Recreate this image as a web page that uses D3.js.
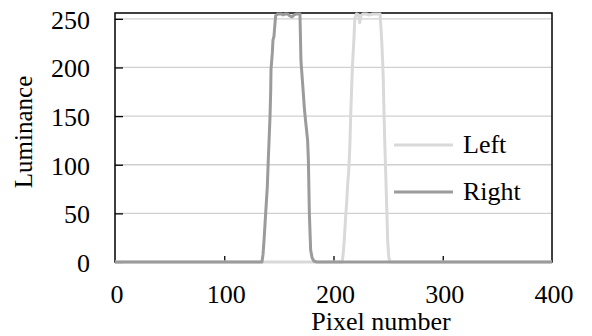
<!DOCTYPE html>
<html>
<head>
<meta charset="utf-8">
<script src="https://cdn.jsdelivr.net/npm/d3@7"></script>
<style>
  body { margin: 0; background: #fff; }
  svg { display: block; }
  svg text { font-family: "Times New Roman", "Liberation Serif", "DejaVu Serif", serif; }
</style>
</head>
<body>
<script>
// luminance profiles (pixel number, value)
const leftPixels = [0, 208, 209, 210, 211, 212, 213, 214, 215, 215.7, 216.5, 217.2, 218, 218.8, 219.5, 221, 223, 224, 225, 227, 230, 233, 236, 239, 242.6, 243.5, 244.2, 245, 245.5, 246.3, 247, 247.8, 248.7, 249.6, 250.5, 251.5, 400];
const leftValues = [0, 0, 10, 25, 45, 60, 80, 95, 120, 150, 175, 198, 215, 232, 250, 255, 254, 246, 253, 255, 255, 254, 255, 255, 255, 240, 226, 205, 190, 150, 120, 91, 57, 22, 6, 0, 0];

const rightPixels = [0, 134.5, 135.5, 136.4, 137.9, 139.4, 140.3, 141.2, 141.9, 142.5, 142.8, 143.3, 144, 144.6, 145.5, 147, 149, 152, 154, 156, 158, 160, 162, 164, 166, 169.3, 170.2, 171.3, 172.4, 173.2, 174, 175.2, 176.3, 177, 177.9, 179.1, 180.5, 182, 184.5, 400];
const rightValues = [0, 0, 8, 22, 50, 77, 105, 130, 150, 175, 198, 205, 215, 228, 232, 253, 255, 255, 254, 255, 255, 253, 252, 254, 255, 255, 207, 190, 173, 160, 150, 137, 125, 105, 50, 12, 4, 1, 0, 0];

const seriesNames = ["Left", "Right"];
const seriesColors = ["#d9d9d9", "#9b9b9b"];

const xTicks = [0, 100, 200, 300, 400];
const yTicks = [0, 50, 100, 150, 200, 250];

const width = 592;
const height = 336;
const font = "'Times New Roman', 'Liberation Serif', 'DejaVu Serif', serif";

const svg = d3
  .select("body")
  .append("svg")
  .attr("width", width)
  .attr("height", height)
  .attr("font-family", font);

const x = d3.scaleLinear().domain([0, 400]).range([115, 552]);
const y = d3.scaleLinear().domain([0, 256]).range([262, 13]);

// horizontal grid
svg
  .append("g")
  .selectAll("line")
  .data(yTicks.filter((d) => d > 0))
  .join("line")
  .attr("x1", x(0))
  .attr("x2", x(400))
  .attr("y1", (d) => y(d))
  .attr("y2", (d) => y(d))
  .attr("stroke", "#d0d0d0")
  .attr("stroke-width", 1.3);

// frame
svg
  .append("rect")
  .attr("x", x(0))
  .attr("y", y(256))
  .attr("width", x(400) - x(0))
  .attr("height", y(0) - y(256))
  .attr("fill", "none")
  .attr("stroke", "#000")
  .attr("stroke-width", 1.5);

// inside ticks
const yAxis = d3.axisRight(y).tickValues(yTicks).tickSize(8).tickFormat("");
svg
  .append("g")
  .attr("transform", `translate(${x(0)},0)`)
  .call(yAxis)
  .call((g) => g.select(".domain").remove())
  .selectAll("line")
  .attr("stroke-width", 1.3);

const xAxis = d3.axisTop(x).tickValues(xTicks.slice(1, -1)).tickSize(6).tickFormat("");
svg
  .append("g")
  .attr("transform", `translate(0,${y(0)})`)
  .call(xAxis)
  .call((g) => g.select(".domain").remove())
  .selectAll("line")
  .attr("stroke-width", 1.3);

// tick labels
svg
  .append("g")
  .selectAll("text")
  .data(yTicks)
  .join("text")
  .attr("x", 90)
  .attr("y", (d) => y(d) + 10)
  .attr("text-anchor", "end")
  .attr("font-size", 26)
  .attr("font-family", font)
  .text((d) => d);

svg
  .append("g")
  .selectAll("text")
  .data(xTicks)
  .join("text")
  .attr("x", (d) => x(d) + 2)
  .attr("y", 303)
  .attr("text-anchor", "middle")
  .attr("font-size", 26)
  .attr("font-family", font)
  .text((d) => d);

// axis titles
svg
  .append("text")
  .attr("transform", "translate(32,132) rotate(-90)")
  .attr("text-anchor", "middle")
  .attr("font-size", 25)
  .attr("font-family", font)
  .text("Luminance");

svg
  .append("text")
  .attr("x", 381)
  .attr("y", 330)
  .attr("text-anchor", "middle")
  .attr("font-size", 26)
  .attr("font-family", font)
  .text("Pixel number");

// series
const line = d3
  .line()
  .x((d) => x(d[0]))
  .y((d) => y(d[1]));

const series = [
  d3.zip(leftPixels, leftValues),
  d3.zip(rightPixels, rightValues),
];

svg
  .append("g")
  .selectAll("path")
  .data(series)
  .join("path")
  .attr("d", line)
  .attr("fill", "none")
  .attr("stroke", (d, i) => seriesColors[i])
  .attr("stroke-width", 3)
  .attr("stroke-linejoin", "round");

// legend
const legend = svg
  .append("g")
  .selectAll("g")
  .data(seriesNames)
  .join("g")
  .attr("transform", (d, i) => `translate(394,${145 + i * 47})`);

legend
  .append("line")
  .attr("x1", 0)
  .attr("x2", 59)
  .attr("stroke", (d, i) => seriesColors[i])
  .attr("stroke-width", 3);

legend
  .append("text")
  .attr("x", 69)
  .attr("y", 8)
  .attr("font-size", 26)
  .attr("font-family", font)
  .text((d) => d);
</script>
</body>
</html>
